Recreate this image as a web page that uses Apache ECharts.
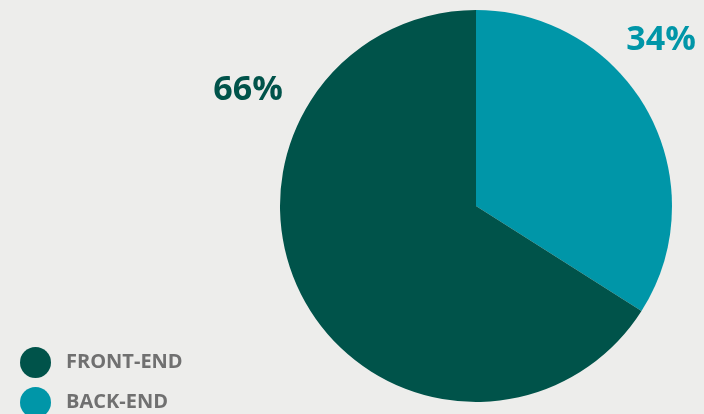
<!DOCTYPE html>
<html>
<head>
<meta charset="utf-8">
<script src="https://cdn.jsdelivr.net/npm/echarts@6/dist/echarts.min.js"></script>
<style>
  html, body { margin: 0; padding: 0; background: #ededeb; }
  #chart { width: 704px; height: 414px; }
</style>
</head>
<body>
<div id="chart"></div>
<script>
// Share of work by area (percent)
const categories = ['BACK-END', 'FRONT-END'];
const shares = [34, 66];
const colors = ['#0096a8', '#00534a'];
const legendOrder = ['FRONT-END', 'BACK-END'];
// Where each percentage label sits (label centre, px)
const labelSpots = [[661, 40], [248, 90]];

const legendText = {
  color: '#707070',
  fontFamily: 'Open Sans',
  fontWeight: 'bold',
  fontSize: 20,
  padding: [0, 0, 0, 10]
};
// One legend block per entry, stacked down the lower-left corner
const legends = legendOrder.map((name, i) => ({
  data: [name],
  left: 15,
  top: 342 + i * 40,
  icon: 'circle',
  itemWidth: 31,
  itemHeight: 31,
  selectedMode: false,
  textStyle: legendText
}));

const chart = echarts.init(document.getElementById('chart'));
chart.setOption({
  backgroundColor: '#ededeb',
  animation: false,
  legend: legends,
  series: [{
    type: 'pie',
    center: [476, 206],
    radius: 196,
    startAngle: 90,
    clockwise: true,
    silent: true,
    data: categories.map((name, i) => ({
      name,
      value: shares[i],
      itemStyle: { color: colors[i] },
      label: { color: colors[i] }
    })),
    label: {
      show: true,
      position: 'inside',
      formatter: p => p.value + '%',
      fontFamily: 'Open Sans',
      fontWeight: 'bold',
      fontSize: 34
    },
    labelLine: { show: false },
    labelLayout: p => ({
      x: labelSpots[p.dataIndex][0],
      y: labelSpots[p.dataIndex][1],
      align: 'center',
      verticalAlign: 'middle'
    })
  }]
});
</script>
</body>
</html>
